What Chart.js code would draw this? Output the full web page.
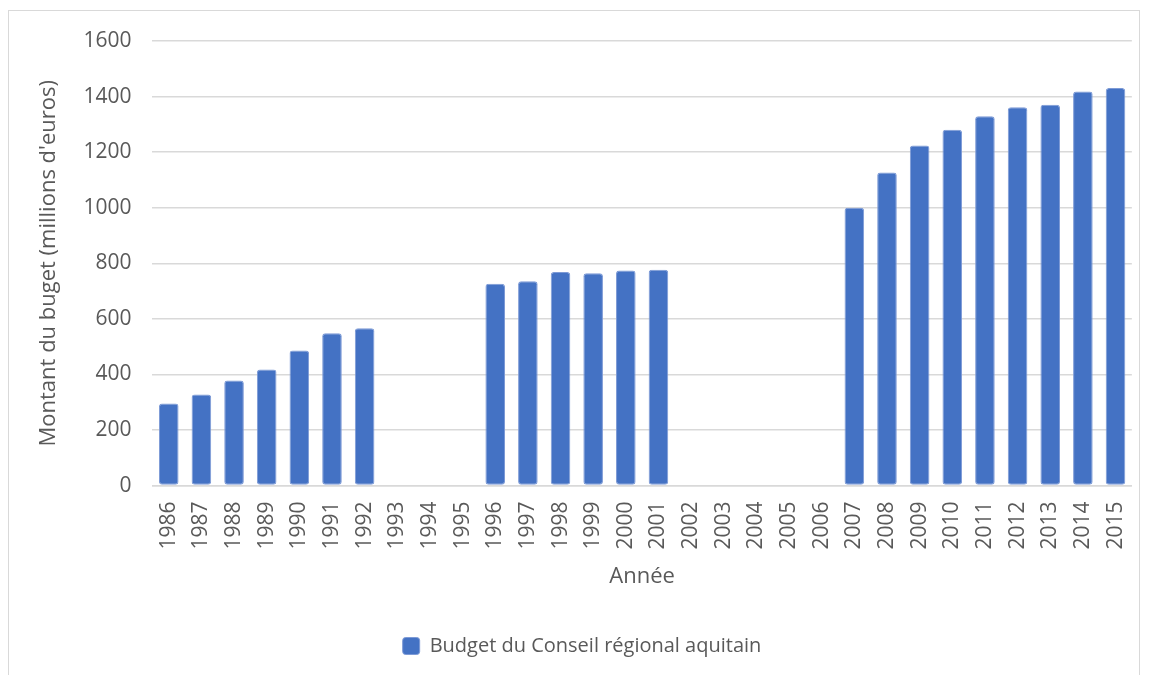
<!DOCTYPE html>
<html>
<head>
<meta charset="utf-8">
<script src="https://cdn.jsdelivr.net/npm/chart.js@4"></script>
<style>
  html, body { margin: 0; padding: 0; background: #ffffff; }
  #frame {
    position: absolute; left: 8px; top: 10px; width: 1132px; height: 700px;
    border: 1px solid #d9d9d9; box-sizing: border-box;
  }
  #wrap { position: absolute; left: 0; top: 0; width: 1149px; height: 675px; }
</style>
</head>
<body>
<div id="frame"></div>
<div id="wrap"><canvas id="budgetChart"></canvas></div>
<script>
const years = [
  "1986", "1987", "1988", "1989", "1990", "1991", "1992", "1993", "1994", "1995",
  "1996", "1997", "1998", "1999", "2000", "2001", "2002", "2003", "2004", "2005",
  "2006", "2007", "2008", "2009", "2010", "2011", "2012", "2013", "2014", "2015"
];
const budget = [
  295, 328, 378, 418, 486, 548, 566, null, null, null,
  726, 735, 769, 764, 774, 777, null, null, null, null,
  null, 1000, 1127, 1224, 1281, 1329, 1362, 1371, 1418, 1431
];
const yTicks = [0, 200, 400, 600, 800, 1000, 1200, 1400, 1600];

const FONT = "\"Open Sans\", Lato, sans-serif";
const TEXT = "#595959";
const BAR = "#4472c4";

Chart.defaults.font.family = FONT;
Chart.defaults.color = TEXT;

new Chart(document.getElementById("budgetChart"), {
  type: "bar",
  data: {
    labels: years,
    datasets: [
      {
        label: "Budget du Conseil régional aquitain",
        data: budget,
        backgroundColor: BAR,
        borderColor: "#7d9ad6",
        borderWidth: 1,
        borderRadius: 3,
        borderSkipped: false,
        barPercentage: 0.6,
        categoryPercentage: 1
      }
    ]
  },
  options: {
    responsive: true,
    maintainAspectRatio: false,
    animation: false,
    layout: { padding: { left: 32, right: 17, top: 41, bottom: 9 } },
    plugins: {
      legend: {
        position: "bottom",
        labels: {
          boxWidth: 17,
          boxHeight: 17,
          useBorderRadius: true,
          borderRadius: 3,
          color: TEXT,
          padding: 10,
          font: { size: 20 }
        }
      },
      tooltip: { enabled: false }
    },
    scales: {
      y: {
        min: 0,
        max: 1600,
        afterBuildTicks: (axis) => {
          axis.ticks = yTicks.map((v) => ({ value: v }));
        },
        grid: { color: "#d9d9d9", lineWidth: 1.5, drawTicks: false },
        border: { display: false },
        ticks: {
          color: TEXT,
          font: { size: 21 },
          padding: 21,
          callback: (v) => String(v)
        },
        title: {
          display: true,
          text: "Montant du buget (millions d'euros)",
          color: TEXT,
          font: { size: 22 },
          padding: { top: 4, bottom: 0 }
        }
      },
      x: {
        grid: { display: false },
        border: { color: "#d9d9d9", width: 1.5 },
        ticks: {
          color: TEXT,
          font: { size: 21 },
          minRotation: 90,
          maxRotation: 90,
          autoSkip: false,
          padding: 8
        },
        title: {
          display: true,
          text: "Année",
          color: TEXT,
          font: { size: 22 },
          padding: { top: 6, bottom: 36 }
        }
      }
    }
  }
});
</script>
</body>
</html>
